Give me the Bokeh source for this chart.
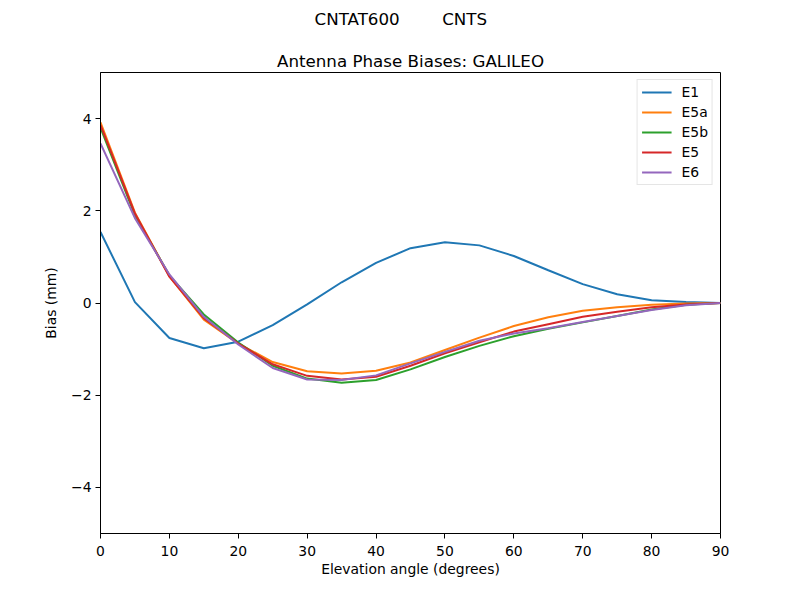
from bokeh.plotting import figure
from bokeh.models import Range1d, Title, Legend, LegendItem, FixedTicker
from bokeh.embed import file_html
from bokeh.resources import INLINE

elev = [0, 5, 10, 15, 20, 25, 30, 35, 40, 45, 50, 55, 60, 65, 70, 75, 80, 85, 90]
e1 = [1.54, 0.02, -0.76, -0.98, -0.84, -0.48, -0.03, 0.45, 0.87, 1.19, 1.32, 1.25, 1.02, 0.71, 0.41, 0.19, 0.06, 0.02, 0.0]
e5a = [3.92, 1.96, 0.58, -0.36, -0.88, -1.28, -1.48, -1.53, -1.47, -1.29, -1.02, -0.75, -0.50, -0.31, -0.17, -0.09, -0.04, -0.01, 0.0]
e5b = [3.80, 1.90, 0.60, -0.25, -0.86, -1.36, -1.64, -1.73, -1.67, -1.44, -1.17, -0.93, -0.72, -0.56, -0.42, -0.28, -0.14, -0.04, 0.0]
e5 = [3.86, 1.94, 0.57, -0.33, -0.88, -1.33, -1.58, -1.66, -1.60, -1.36, -1.09, -0.85, -0.62, -0.46, -0.30, -0.19, -0.09, -0.03, 0.0]
e6 = [3.46, 1.84, 0.62, -0.30, -0.90, -1.41, -1.66, -1.67, -1.57, -1.31, -1.06, -0.82, -0.66, -0.55, -0.41, -0.28, -0.15, -0.05, 0.0]

series = [("E1", e1, "#1f77b4"), ("E5a", e5a, "#ff7f0e"), ("E5b", e5b, "#2ca02c"),
          ("E5", e5, "#d62728"), ("E6", e6, "#9467bd")]

x_ticks = [0, 10, 20, 30, 40, 50, 60, 70, 80, 90]
y_ticks = [-4, -2, 0, 2, 4]
y_tick_labels = {-4: "\u22124", -2: "\u22122", 0: "0", 2: "2", 4: "4"}

suptitle_text = "CNTAT600" + "\u00a0" * 8 + "CNTS"
title_text = "Antenna Phase Biases: GALILEO"

FONT = "DejaVu Sans"

p = figure(width=784, height=584, output_backend="svg", toolbar_location=None,
           x_range=Range1d(0, 90), y_range=Range1d(-5, 5), title=None,
           min_border_left=100, min_border_right=64, min_border_top=72, min_border_bottom=51)

p.add_layout(Title(text=title_text, align="center",
                   text_font=FONT, text_font_size="16.7px", text_font_style="normal",
                   text_color="black", standoff=3), "above")
# thin spacer between the axes title and the figure title
p.add_layout(Title(text="\u00a0", align="center", text_font=FONT,
                   text_font_size="1px", text_color="white", standoff=16), "above")
p.add_layout(Title(text=suptitle_text, align="left", text_font=FONT,
                   text_font_size="16.7px", text_font_style="normal", text_color="black",
                   offset=214, standoff=0), "above")

renderers = []
for name, vals, col in series:
    r = p.line(elev, vals, line_color=col, line_width=2)
    renderers.append((name, r))

legend = Legend(items=[LegendItem(label=n, renderers=[r]) for n, r in renderers],
                location="top_right", label_text_font=FONT, label_text_font_size="13.9px",
                label_text_color="black",
                glyph_width=30, glyph_height=14, label_height=14, spacing=4,
                padding=4, margin=7, border_line_color="#cccccc", border_line_width=1,
                label_standoff=10)
p.add_layout(legend)

p.grid.visible = False
p.outline_line_color = "black"
p.outline_line_width = 1

for ax in (p.xaxis[0], p.yaxis[0]):
    ax.axis_line_color = "black"
    ax.major_tick_out = 5
    ax.major_tick_in = 0
    ax.minor_tick_out = 0
    ax.minor_tick_in = 0
    ax.major_label_text_font = FONT
    ax.major_label_text_font_size = "13.9px"
    ax.major_label_text_color = "black"
    ax.axis_label_text_font = FONT
    ax.axis_label_text_font_size = "13.9px"
    ax.axis_label_text_font_style = "normal"
    ax.axis_label_text_color = "black"
    ax.major_label_standoff = 4

p.xaxis[0].ticker = FixedTicker(ticks=x_ticks)
p.yaxis[0].ticker = FixedTicker(ticks=y_ticks)
p.yaxis[0].major_label_overrides = y_tick_labels
p.xaxis[0].axis_label = "Elevation angle (degrees)"
p.yaxis[0].axis_label = "Bias (mm)"
p.xaxis[0].major_label_standoff = 7
p.xaxis[0].axis_label_standoff = 2
p.yaxis[0].axis_label_standoff = 9

open("out.html", "w").write(file_html(p, INLINE))
